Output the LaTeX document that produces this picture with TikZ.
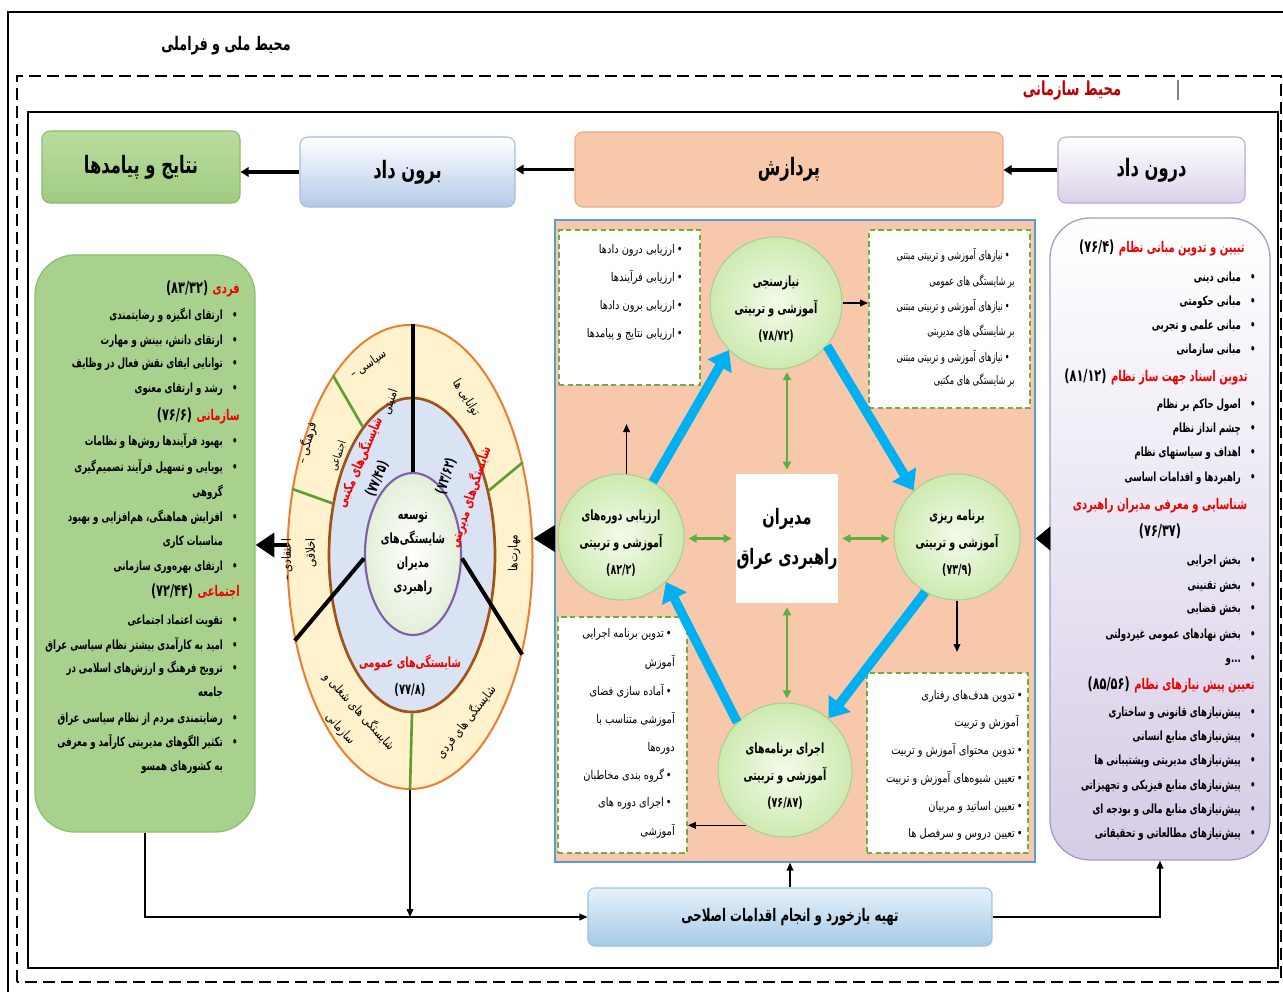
\documentclass[tikz,border=0pt]{standalone}
\usepackage{fontspec}
\usetikzlibrary{arrows.meta,shapes.geometric,fit,calc}
\TeXXeTstate=1
\newfontfamily\fa[Script=Arabic,FakeStretch=0.82]{DejaVu Sans}
\newfontfamily\fan[Script=Arabic,FakeStretch=0.68]{DejaVu Sans}
\newcommand\R[1]{\beginR #1\endR}
\newcommand\Num[1]{\beginL #1\endL{}}
\newcommand\Bl[1]{\R{•\hspace{7pt}#1}}
\newcommand\Ct[1]{\R{\hphantom{•}\hspace{7pt}#1}}
\newcommand\Sb[1]{\R{•\hspace{1.5pt}#1}}
\newcommand\Up{\rule{0pt}{17pt}}
\definecolor{fred}{HTML}{F00000}
\definecolor{dred}{HTML}{C00000}
\definecolor{resT}{HTML}{B9DC9F}
\definecolor{resB}{HTML}{A0CB80}
\definecolor{resD}{HTML}{8DBB6A}
\definecolor{outB}{HTML}{B4C9E8}
\definecolor{outD}{HTML}{A3BEE0}
\definecolor{proc}{HTML}{F7C9AA}
\definecolor{procD}{HTML}{E8A884}
\definecolor{inB}{HTML}{D9D1E8}
\definecolor{inD}{HTML}{B8ABD3}
\definecolor{rcolB}{HTML}{D5CCE6}
\definecolor{rcolD}{HTML}{A89BC9}
\definecolor{lcol}{HTML}{A9D18E}
\definecolor{lcolD}{HTML}{8FBF6E}
\definecolor{panelD}{HTML}{5B9BD5}
\definecolor{dgreen}{HTML}{70AD47}
\definecolor{cyanA}{HTML}{00B0F0}
\definecolor{garrow}{HTML}{5DAF45}
\definecolor{cin}{HTML}{F3FBEA}
\definecolor{cout}{HTML}{CDEAB0}
\definecolor{cD}{HTML}{A9D18E}
\definecolor{ovo}{HTML}{ED7D31}
\definecolor{ovf}{HTML}{FFF2CC}
\definecolor{ovm}{HTML}{A0521C}
\definecolor{ovmf}{HTML}{DAE3F3}
\definecolor{ovi}{HTML}{7F5FA5}
\definecolor{ovif}{HTML}{E2EFD9}
\definecolor{ringg}{HTML}{5E9E3A}
\definecolor{fbT}{HTML}{E6F1FA}
\definecolor{fbB}{HTML}{A5CAE6}
\definecolor{fbD}{HTML}{9DC3E6}
\begin{document}
\begin{tikzpicture}[x=0.75pt,y=-0.75pt,
  every node/.style={font=\fa},
  topbox/.style={inner sep=0pt, rounded corners=6pt, line width=0.8pt, text height=10pt, text depth=1pt, font=\fan\bfseries\fontsize{18}{20}\selectfont},
  dbox/.style={draw=dgreen, dash pattern=on 4pt off 2.5pt, line width=1.4pt, fill=white, inner sep=0pt},
  circ/.style={circle, draw=cD, line width=0.8pt, inner color=cin, outer color=cout, inner sep=0pt, align=center, font=\fan\bfseries\fontsize{10.5}{20}\selectfont},
  barrow/.style={line width=1.1pt, -{Triangle[length=6pt,width=5pt]}},
  tarr/.style={line width=2.4pt, -{Triangle[length=6pt,width=7pt]}},
  blarr/.style={draw=cyanA, line width=7pt, -{Triangle[length=14pt,width=20pt]}},
  garr/.style={draw=garrow, line width=1.6pt, {Triangle[length=6pt,width=6pt]}-{Triangle[length=6pt,width=6pt]}},
  colt/.style={font=\fan\bfseries\fontsize{9.5}{11}\selectfont, anchor=mid east, inner sep=0pt},
  colh/.style={font=\fan\bfseries\fontsize{11}{12}\selectfont, anchor=mid east, inner sep=0pt, text=fred},
  numh/.style={font=\fan\bfseries\fontsize{12.5}{13}\selectfont, anchor=mid east, inner sep=0pt},
  boxt/.style={font=\fa\fontsize{9}{10}\selectfont, anchor=mid east, inner sep=0pt},
  ringt/.style={font=\fa\fontsize{9.5}{12}\selectfont, inner sep=0pt, align=center},
  redt/.style={font=\fan\bfseries\fontsize{10.5}{12}\selectfont, text=fred, inner sep=0pt},
  numt/.style={font=\fan\bfseries\fontsize{11}{12}\selectfont, inner sep=0pt}
]
\useasboundingbox (0,0) rectangle (1283,992);
% environments
\draw[line width=2.2pt] (8,996) -- (8,12) -- (1290,12);
\draw[line width=1.5pt, dash pattern=on 9pt off 4.5pt] (17,982) rectangle (1281,76);
\draw[line width=1.5pt] (28,968) rectangle (1278,112);
\draw[gray, line width=0.8pt] (1178,80) -- (1178,100);
\node[font=\fan\bfseries\fontsize{14}{16}\selectfont] (natl) at (226,46) {\R{محیط ملی و فراملی}};
\node[font=\fan\bfseries\fontsize{14.5}{16}\selectfont, text=dred] (org) at (1072,91) {\R{محیط سازمانی}};
% top row
\node[topbox, minimum width=148.5pt, minimum height=54pt, draw=resD, top color=resT, bottom color=resB] (res) at (141,167) {\R{نتایج و پیامدها}};
\node[topbox, minimum width=161.25pt, minimum height=52.5pt, draw=outD, top color=white, bottom color=outB] (out) at (407.5,172) {\R{برون داد}};
\node[topbox, minimum width=321pt, minimum height=56.25pt, draw=procD, fill=proc] (proc) at (789,169.5) {\R{پردازش}};
\node[topbox, minimum width=140.25pt, minimum height=49.5pt, draw=inD, top color=white, bottom color=inB] (in) at (1151.5,170) {\R{درون داد}};
\draw[tarr] (in.west) -- (in.west -| proc.east);
\draw[tarr] (proc.west) -- (proc.west -| out.east);
\draw[tarr] (out.west) -- (out.west -| res.east);
% columns and panel
\node[fit={(1050,218)(1270,860)}, inner sep=0pt, rounded corners=30pt, draw=rcolD, line width=1pt, top color=white, bottom color=rcolB] (rcol) {};
\node[fit={(35,255)(255,832)}, inner sep=0pt, rounded corners=30pt, draw=lcolD, line width=1pt, fill=lcol] (lcol) {};
\node[fit={(555,220)(1035,862)}, inner sep=0pt, draw=panelD, line width=1pt, fill=proc] (panel) {};
% dashed boxes
\node[dbox, fit={(559,230)(700,385)}] (tlbox) {};
\node[dbox, fit={(869,230)(1030,408)}] (trbox) {};
\node[dbox, fit={(558,617)(687,853)}] (blbox) {};
\node[dbox, fit={(867,673)(1028,853)}] (brbox) {};
% circles
\node[circ, minimum size=99pt] (need) at (776,303) {\Up\R{نیازسنجی}\\\R{آموزشی و تربیتی}\\\Num{(۷۸/۷۲)}};
\node[circ, minimum size=94.5pt] (eval) at (621,537) {\Up\R{ارزیابی دوره‌های}\\\R{آموزشی و تربیتی}\\\Num{(۸۲/۲)}};
\node[circ, minimum size=94.5pt] (plan) at (957,537) {\Up\R{برنامه ریزی}\\\R{آموزشی و تربیتی}\\\Num{(۷۳/۹)}};
\node[circ, minimum size=100.5pt] (impl) at (785,770) {\Up\R{اجرای برنامه‌های}\\\R{آموزشی و تربیتی}\\\Num{(۷۶/۸۷)}};
\node[minimum width=76.5pt, minimum height=96.75pt, fill=white, inner sep=0pt, align=center, font=\fan\bfseries\fontsize{16}{30}\selectfont] (mgr) at (787,538.5) {\R{مدیران}\\\R{راهبردی عراق}};
% cycle arrows
\draw[blarr] (eval.60) -- (need.225);
\draw[blarr] (need.-40) -- (plan.133);
\draw[blarr] (plan.240) -- (impl.50);
\draw[blarr] (impl.135) -- (eval.-45);
\draw[garr, shorten >=2pt, shorten <=3pt] (mgr.north) -- (mgr.north |- need.south);
\draw[garr, shorten >=3pt, shorten <=3pt] (mgr.south) -- (mgr.south |- impl.north);
\draw[garr, shorten >=3pt, shorten <=3pt] (mgr.west) -- (mgr.west -| eval.east);
\draw[garr, shorten >=3pt, shorten <=3pt] (mgr.east) -- (mgr.east -| plan.west);
\coordinate (evup) at (626,424);
\coordinate (pldn) at (960,652);
\draw[barrow] (need.east) -- (need.east -| trbox.west);
\draw[barrow] (eval.85) -- (eval.85 |- evup);
\draw[barrow] (plan.south) -- (plan.south |- pldn);
\draw[barrow] (impl.235) -- (impl.235 -| blbox.east);
% dashed box texts
\foreach \xx/\yy/\txt in {683/251/{\Sb{ارزیابی درون دادها}},683/279/{\Sb{ارزیابی فرآیندها}},683/307/{\Sb{ارزیابی برون دادها}},683/335/{\Sb{ارزیابی نتایج و پیامدها}}}
  \node[boxt] (tl\yy) at (\xx,\yy) {\txt};
\foreach \xx/\yy/\txt in {1010/257/{\Sb{نیازهای آموزشی و تربیتی مبتنی}},1015/283/{\R{بر شایستگی های عمومی}},1010/308/{\Sb{نیازهای آموزشی و تربیتی مبتنی}},1015/333/{\R{بر شایستگی های مدیریتی}},1010/359/{\Sb{نیازهای آموزشی و تربیتی مبتنی}},1015/382/{\R{بر شایستگی های مکتبی}}}
  \node[boxt, font=\fan\fontsize{9}{10}\selectfont] (tr\yy) at (\xx,\yy) {\txt};
\foreach \xx/\yy/\txt in {672/635/{\Sb{تدوین برنامه اجرایی}},675/664/{\R{آموزش}},672/693/{\Sb{آماده سازی فضای}},675/721/{\R{آموزشی متناسب با}},675/749/{\R{دوره‌ها}},672/777/{\Sb{گروه بندی مخاطبان}},672/804/{\Sb{اجرای دوره های}},675/833/{\R{آموزشی}}}
  \node[boxt] (bl\yy) at (\xx,\yy) {\txt};
\foreach \xx/\yy/\txt in {1023/697/{\Sb{تدوین هدف‌های رفتاری}},1019/724/{\R{آموزش و تربیت}},1023/752/{\Sb{تدوین محتوای آموزش و تربیت}},1023/780/{\Sb{تعیین شیوه‌های آموزش و تربیت}},1023/808/{\Sb{تعیین اساتید و مربیان}},1023/835/{\Sb{تعیین دروس و سرفصل ها}}}
  \node[boxt] (br\yy) at (\xx,\yy) {\txt};
% right column text
\node[colh] (rh1) at (1245,250) {\R{تبیین و تدوین مبانی نظام}};
\node[numh] (rh1n) at ([xshift=-3pt]rh1.mid west) {\Num{(۷۶/۴)}};
\node[colh] (rh2) at (1248,379) {\R{تدوین اسناد جهت ساز نظام}};
\node[numh] (rh2n) at ([xshift=-3pt]rh2.mid west) {\Num{(۸۱/۱۲)}};
\node[colh, anchor=mid] (rh3) at (1160,507) {\R{شناسایی و معرفی مدیران راهبردی}};
\node[numh, anchor=mid] (rh3n) at (1160,534) {\Num{(۷۶/۳۷)}};
\node[colh] (rh4) at (1255,687) {\R{تعیین پیش نیازهای نظام}};
\node[numh] (rh4n) at ([xshift=-3pt]rh4.mid west) {\Num{(۸۵/۵۶)}};
\foreach \yy/\txt in {279/{مبانی دینی},303/{مبانی حکومتی},327/{مبانی علمی و تجربی},351/{مبانی سازمانی},406/{اصول حاکم بر نظام},430/{چشم انداز نظام},454/{اهداف و سیاستهای نظام},479/{راهبردها و اقدامات اساسی},562/{بخش اجرایی},587/{بخش تقنینی},610/{بخش قضایی},636/{بخش نهادهای عمومی غیردولتی},660/{...\kern0ptو},714/{پیش‌نیازهای قانونی و ساختاری},738/{پیش‌نیازهای منابع انسانی},762/{پیش‌نیازهای مدیریتی وپشتیبانی ها},787/{پیش‌نیازهای منابع فیزیکی و تجهیزاتی},811/{پیش‌نیازهای منابع مالی و بودجه ای},835/{پیش‌نیازهای مطالعاتی و تحقیقاتی}}
  \node[colt] (r\yy) at (1256,\yy) {\Bl{\txt}};
% left column text
\node[colh] (lh1) at (240,291) {\R{فردی}};
\node[numh] (lh1n) at ([xshift=-3pt]lh1.mid west) {\Num{(۸۳/۳۲)}};
\node[colh] (lh2) at (240,418) {\R{سازمانی}};
\node[numh] (lh2n) at ([xshift=-3pt]lh2.mid west) {\Num{(۷۶/۶)}};
\node[colh] (lh3) at (240,594) {\R{اجتماعی}};
\node[numh] (lh3n) at ([xshift=-3pt]lh3.mid west) {\Num{(۷۲/۴۴)}};
\foreach \yy/\txt in {317/{\Bl{ارتقای انگیزه و رضایتمندی}},342/{\Bl{ارتقای دانش، بینش و مهارت}},365/{\Bl{توانایی ایفای نقش فعال در وظایف}},390/{\Bl{رشد و ارتقای معنوی}},443/{\Bl{بهبود فرآیندها روش‌ها و نظامات}},469/{\Bl{پویایی و تسهیل فرآیند تصمیم‌گیری}},494/{\Ct{گروهی}},519/{\Bl{افزایش هماهنگی، هم‌افزایی و بهبود}},543/{\Ct{مناسبات کاری}},568/{\Bl{ارتقای بهره‌وری سازمانی}},622/{\Bl{تقویت اعتماد اجتماعی}},647/{\Bl{امید به کارآمدی بیشتر نظام سیاسی عراق}},670/{\Bl{ترویج فرهنگ و ارزش‌های اسلامی در}},694/{\Ct{جامعه}},720/{\Bl{رضایتمندی مردم از نظام سیاسی عراق}},744/{\Bl{تکثیر الگوهای مدیریتی کارآمد و معرفی}},768/{\Ct{به کشورهای همسو}}}
  \node[colt] (l\yy) at (238,\yy) {\txt};
% competency oval
\node[ellipse, minimum width=183.75pt, minimum height=348pt, draw=ovo, line width=1.5pt, fill=ovf, inner sep=0pt] (outer) at (410,557) {};
\node[ellipse, minimum width=124.5pt, minimum height=235.5pt, draw=ovm, line width=2pt, fill=ovmf, inner sep=0pt] (middle) at (412,555) {};
\node[ellipse, minimum width=72pt, minimum height=121.5pt, draw=ovi, line width=1.6pt, inner color=white, outer color=ovif, inner sep=0pt] (inner) at (413,554) {};
\draw[line width=3pt] (inner.north) -- (inner.north |- outer.north);
\draw[line width=3pt] (inner.185) -- (outer.216);
\draw[line width=3pt] (inner.-5) -- (outer.-41);
\draw[ringg, line width=2pt] (middle.111) -- (outer.113);
\draw[ringg, line width=2pt] (middle.147) -- (outer.150);
\draw[ringg, line width=2pt] (middle.40) -- (outer.40);
\draw[ringg, line width=2pt] (middle.south) -- (outer.south);
\node[font=\fan\bfseries\fontsize{10.5}{18}\selectfont, align=center, inner sep=0pt] (innert) at (413,554) {\R{توسعه}\\\R{شایستگی‌های}\\\R{مدیران}\\\R{راهبردی}};
\node[ringt, rotate=35] (s1) at (368,364) {\R{سیاسی –}};
\node[ringt, rotate=72] (s2) at (390,402) {\R{امنیتی}};
\node[ringt, rotate=75] (s3) at (307,443) {\R{فرهنگی –}};
\node[ringt, rotate=72, font=\fa\fontsize{8}{10}\selectfont] (s4) at (338,456) {\R{اجتماعی}};
\node[ringt, rotate=90] (s5) at (287,560) {\R{اعتقادی –}};
\node[ringt, rotate=90] (s6) at (311,553) {\R{اخلاقی}};
\node[ringt, rotate=-58] (s7) at (466,398) {\R{توانایی ها}};
\node[ringt, rotate=90] (s8) at (514,553) {\R{مهارت‌ها}};
\node[ringt, rotate=52] (s9) at (466,722) {\R{شایستگی های فردی}};
\node[ringt, rotate=-48, font=\fa\fontsize{9.5}{19}\selectfont] (s10) at (350,720) {\R{شایستگی های شغلی و}\\\R{سازمانی}};
\node[redt, rotate=67] (m1) at (359,462) {\R{شایستگی‌های مکتبی}};
\node[numt, rotate=67] (m1n) at (377,479) {\Num{(۷۷/۴۵)}};
\node[redt, rotate=72] (m2) at (470,497) {\R{شایستگی‌های مدیریتی}};
\node[numt, rotate=72] (m2n) at (446,476) {\Num{(۷۳/۶۲)}};
\node[redt] (m3) at (410,663) {\R{شایستگی‌های عمومی}};
\node[numt] (m3n) at (410,690) {\Num{(۷۷/۸)}};
% big flow triangles
\draw[line width=0.5pt, -{Triangle[length=11pt,width=18pt]}] (rcol.west |- mgr) -- (panel.east |- mgr);
\draw[line width=0.5pt, -{Triangle[length=16pt,width=20pt]}] (panel.west |- mgr) -- (outer.east |- mgr);
\draw[line width=3pt, -{Triangle[length=14pt,width=18pt]}] ($(outer.west)+(0,-12)$) -- ($(outer.west -| lcol.east)+(0,-12)$);
% feedback
\node[minimum width=303pt, minimum height=43.5pt, inner sep=0pt, rounded corners=5pt, draw=fbD, line width=0.8pt, top color=fbT, bottom color=fbB, text height=8pt, text depth=1pt, font=\fan\bfseries\fontsize{13}{15}\selectfont] (fb) at (790,917) {\R{تهیه بازخورد و انجام اقدامات اصلاحی}};
\draw[barrow] (lcol.south) |- (fb.west);
\draw[barrow] (outer.south) -- (outer.south |- fb.west);
\draw[barrow] (fb.north) -- (fb.north |- panel.south);
\draw[barrow] (fb.east) -| (rcol.south);
\end{tikzpicture}
\end{document}
